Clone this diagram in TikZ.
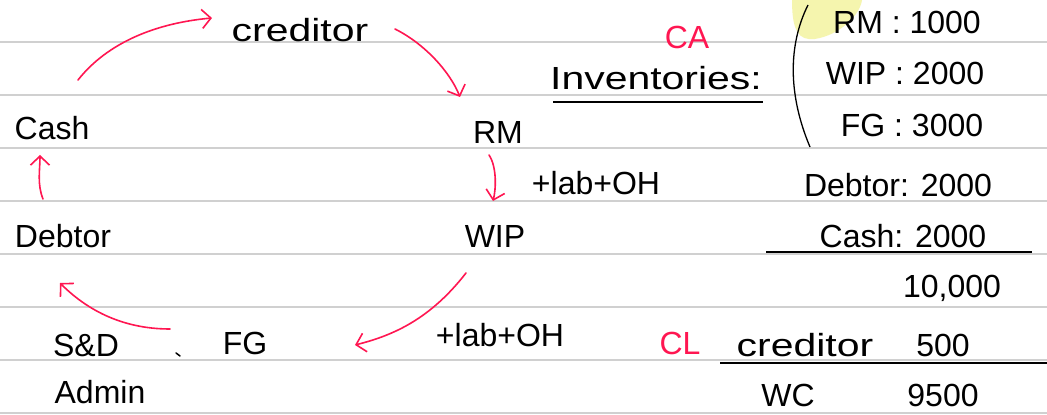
\documentclass[tikz,border=0pt]{standalone}
\usepackage{fontspec}
\setmainfont{Liberation Sans}
\usepackage{xcolor}
\usepackage{tikz}
\usetikzlibrary{positioning, arrows.meta, calc}

\definecolor{inkred}{HTML}{FF1651}
\definecolor{ruled}{HTML}{D0D0D0}
\definecolor{marker}{HTML}{F4F4A6}

\begin{document}
\begin{tikzpicture}[x=1pt, y=1pt,
    txt/.style={inner sep=2pt, font=\fontsize{32}{36}\selectfont},
    wide/.style={txt, xscale=1.28},
    redtxt/.style={txt, text=inkred},
    flow/.style={inkred, line width=1.6pt, line cap=round, -{Straight Barb[length=9pt, width=19pt, line width=1.6pt]}},
    sumline/.style={black, line width=1.5pt}]
    \useasboundingbox (0,0) rectangle (1047,415);
    \fill[white] (0,0) rectangle (1047,415);

    % Ruled paper
    \foreach \y in {2,55,108,161,214,267,320,373}
        \draw[ruled, line width=1.5pt] (0,\y) -- (1047,\y);

    % Highlight
    \fill[marker, opacity=0.9] (792,415) -- (862,415) .. controls (860,400) and (840,380) .. (815,376) .. controls (798,374) and (792,385) .. cycle;

    % Cycle
    \node[wide] (creditor) at (300,385) {creditor};
    \node[txt] (cash) at (52,287) {Cash};
    \node[txt] (rm) at (498,283) {RM};
    \node[txt] (labtop) at (596,232) {+lab+OH};
    \node[txt] (debtor) at (63,179) {Debtor};
    \node[txt] (wip) at (495,179) {WIP};
    \node[txt] (fg) at (245,72) {FG};
    \node[txt] (labbot) at (500,80) {+lab+OH};
    \node[txt] (sd) at (86,70) {S\&D};
    \node[txt] (admin) at (100,23) {Admin};
    \draw[black, line width=1.5pt, line cap=round] (176,62) -- (180,59);

    \draw[flow] ([shift={(26,48)}]cash.center) .. controls +(30,38) and +(-55,-5) .. ([shift={(-88,12)}]creditor.center);
    \draw[flow] ([shift={(95,1)}]creditor.center) .. controls +(30,-15) and +(-10,25) .. ([shift={(-38,35)}]rm.center);
    \draw[flow] ([shift={(-9,-23)}]rm.center) .. controls +(8,-12) and +(3,12) .. ([shift={(-2,35)}]wip.center);
    \draw[flow] ([shift={(-29,-37)}]wip.center) .. controls +(-35,-45) and +(40,10) .. ([shift={(110,-2)}]fg.center);
    \draw[flow] ([shift={(-75,14)}]fg.center) .. controls +(-50,0) and +(25,-25) .. ([shift={(-3,-47)}]debtor.center);
    \draw[flow] ([shift={(-20,37)}]debtor.center) .. controls +(-6,15) and +(0,-15) .. ([shift={(-12,-27)}]cash.center);

    % Current assets
    \node[redtxt] (ca) at (687,378) {CA};
    \node[wide] (inv) at (656,337) {Inventories:};
    \draw[sumline] (553,313) -- (763,313);
    \draw[black, line width=1.3pt] (808,410) .. controls (788,370) and (788,320) .. (810,268);
    \node[txt] (rmv) at (907,393) {RM : 1000};
    \node[txt] (wipv) at (905,342) {WIP : 2000};
    \node[txt] (fgv) at (912,290) {FG : 3000};
    \node[txt] (debtv) at (898,230) {Debtor: 2000};
    \node[txt] (cashv) at (903,179) {Cash: 2000};
    \draw[sumline] (766,163) -- (1032,163);
    \node[txt] (total) at (952,127) {10,000};

    % Current liabilities
    \node[redtxt] (cl) at (680,72) {CL};
    \node[wide] (credl) at (805,70) {creditor};
    \node[txt] (credv) at (943,70) {500};
    \draw[sumline] (720,52) -- (1047,52);
    \node[txt] (wc) at (788,20) {WC};
    \node[txt] (wcv) at (943,20) {9500};
\end{tikzpicture}
\end{document}
